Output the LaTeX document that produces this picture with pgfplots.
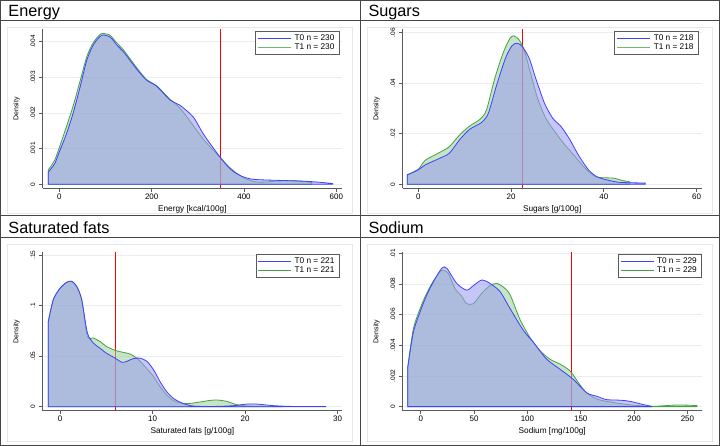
\documentclass[border=0pt]{standalone}
\usepackage{fontspec}
\setmainfont{Liberation Sans}
\usepackage{pgfplots}
\pgfplotsset{compat=1.18}
\definecolor{lblue}{RGB}{64,64,255}
\definecolor{lgreen}{RGB}{70,160,70}
\definecolor{lgreenl}{RGB}{110,185,110}
\definecolor{fblue}{RGB}{154,154,242}
\definecolor{fgreen}{RGB}{150,209,150}
\definecolor{axgray}{RGB}{90,90,90}
\definecolor{gridc}{RGB}{232,238,240}
\definecolor{framec}{RGB}{70,70,70}
\definecolor{faint}{RGB}{226,232,236}
\definecolor{redl}{RGB}{255,0,0}
\pgfplotsset{panel/.style={
  scale only axis, width=299.3bp, height=159bp,
  axis lines=left, axis line style={-, draw=axgray, line width=0.7bp},
  tick align=outside, major tick length=3.5bp,
  every tick/.style={draw=axgray, line width=0.7bp},
  ymajorgrids, major grid style={draw=gridc, line width=0.7bp},
  scaled ticks=false, clip=false,
  xticklabel style={font=\fontsize{8}{9}\selectfont, inner sep=1.5bp},
  yticklabel style={font=\fontsize{6.5}{7}\selectfont, rotate=90, anchor=south, inner sep=3.8bp},
  xlabel style={font=\fontsize{8.3}{9}\selectfont, at={(axis description cs:0.5,-0.13)}, anchor=center},
  ylabel style={font=\fontsize{7}{8}\selectfont, at={(axis description cs:-0.087,0.5)}, anchor=center},
  ylabel={Density},
  legend style={at={(0.991,0.99)}, anchor=north east, draw=axgray, line width=0.8bp, fill=white,
    font=\fontsize{8.3}{9}\selectfont, inner sep=1.5bp, row sep=-2.2bp, cells={anchor=west},
    nodes={inner xsep=3bp}},
  legend image code/.code={\draw[#1] (0bp,0bp) -- (33bp,0bp);},
  extra x tick style={xmajorgrids=true, major tick length=0pt,
    major grid style={draw=redl, line width=1bp}, xticklabel style={opacity=0}},
  gline/.style={smooth, tension=0.45, draw=lgreen, line width=0.8bp, fill=fgreen, fill opacity=0.55, draw opacity=1, forget plot},
  bline/.style={smooth, tension=0.45, draw=lblue, line width=0.8bp, fill=fblue, fill opacity=0.55, draw opacity=1, forget plot},
}}
\begin{document}
\begin{tikzpicture}[x=1bp,y=1bp]
\useasboundingbox (0,0) rectangle (720,446);
\fill[white] (0,0) rectangle (720,446);
% faint graph region borders
\draw[draw=faint, line width=0.7bp] (7.5,233) rectangle (352,419);
\draw[draw=faint, line width=0.7bp] (367.5,233) rectangle (712,419);
\draw[draw=faint, line width=0.7bp] (7.5,5) rectangle (352,202);
\draw[draw=faint, line width=0.7bp] (367.5,5) rectangle (712,202);

% ---------------- Saturated fats ----------------
\begin{axis}[panel, at={(42.7bp,35.3bp)}, anchor=south west, height=158.4bp,
  xmin=-1.87, xmax=30.47, ymin=-0.00396, ymax=0.1527,
  legend style={at={(0.991,0.99)}},
  xtick={0,10,20,30}, xticklabels={0,10,20,30},
  extra x ticks={6}, extra x tick labels={},
  ytick={0,0.05,0.1,0.15}, yticklabels={0,.05,.1,.15},
  xlabel={Saturated fats [g/100g]}]
\addlegendimage{draw=lblue, line width=1bp}\addlegendentry{T0 n = 221}
\addlegendimage{draw=lgreen, line width=1bp}\addlegendentry{T1 n = 221}
\addplot[gline] coordinates {(-1.26,0.0844) (-0.72,0.106) (0,0.117) (0.72,0.123) (1.26,0.124) (1.8,0.119) (2.34,0.106) (2.96,0.0696) (3.6,0.068) (4.3,0.0646) (5.0,0.0597) (5.95,0.0557) (6.7,0.054) (7.6,0.052) (8.3,0.048) (9.0,0.0415) (10.1,0.030) (10.8,0.020) (11.5,0.0119) (12.3,0.0059) (13.2,0.0033) (14.1,0.0033) (15.1,0.0046) (16.2,0.0062) (17,0.0066) (18,0.0053) (19.1,0.002) (20.2,0.0007) (22,0.0003) (24,0.0002)} \closedcycle;
\addplot[bline] coordinates {(-1.26,0.0844) (-0.72,0.106) (0,0.117) (0.72,0.123) (1.26,0.124) (1.8,0.119) (2.34,0.106) (2.96,0.073) (3.6,0.063) (4.3,0.058) (5.0,0.053) (5.95,0.048) (6.7,0.0439) (7.2,0.0448) (7.9,0.0475) (8.65,0.048) (9.4,0.0448) (10.1,0.0366) (10.8,0.025) (11.5,0.0152) (12.3,0.0079) (13.2,0.0036) (14.1,0.001) (15.1,0.0003) (17,0.0003) (18.75,0.001) (20.2,0.0026) (21.3,0.0026) (23.1,0.001) (24.9,0.0003) (27,0.0002) (28.7,0.0002)} \closedcycle;
\end{axis}

% ---------------- Sodium ----------------
\begin{axis}[panel, at={(402.7bp,35.3bp)}, anchor=south west, width=299bp, height=158.4bp,
  xmin=-16.9, xmax=263.4, ymin=-0.000264, ymax=0.01007,
  legend style={at={(1.0,0.99)}},
  xtick={0,50,100,150,200,250}, xticklabels={0,50,100,150,200,250},
  extra x ticks={141}, extra x tick labels={},
  ytick={0,0.002,0.004,0.006,0.008,0.01}, yticklabels={0,.002,.004,.006,.008,.01},
  xlabel={Sodium [mg/100g]}]
\addlegendimage{draw=lblue, line width=1bp}\addlegendentry{T0 n = 229}
\addlegendimage{draw=lgreen, line width=1bp}\addlegendentry{T1 n = 229}
\addplot[gline] coordinates {(-12.2,0.00255) (-6.9,0.00508) (0,0.0065) (5.6,0.0074) (11.9,0.0082) (18.1,0.0088) (21.25,0.0089) (25.9,0.0087) (32.2,0.0077) (38.4,0.0072) (43,0.00672) (49.4,0.00672) (57.2,0.0074) (65,0.0079) (71.25,0.00804) (77.5,0.0078) (83.75,0.0073) (93,0.0057) (102.5,0.0045) (111.9,0.00365) (121,0.0031) (130.6,0.00277) (140,0.00233) (149,0.00145) (155.6,0.0009) (165,0.0005) (174,0.00035) (187,0.0002) (199,0.0001) (215,0.00002) (224,0.00004) (237,0.0001) (249,0.0001) (259,0.00007)} \closedcycle;
\addplot[bline] coordinates {(-12.2,0.00255) (-6.9,0.00486) (0,0.0063) (5.6,0.00727) (11.9,0.00815) (19.7,0.00903) (24.4,0.00903) (33.75,0.00804) (43.1,0.0076) (49.4,0.0079) (57.2,0.00826) (65,0.00804) (74.4,0.0075) (83.75,0.0064) (96.25,0.00497) (105.6,0.0042) (118,0.0031) (130.6,0.00244) (143,0.00178) (155.6,0.0009) (165,0.00068) (174,0.00046) (187,0.00042) (196,0.00035) (209,0.00013) (216.6,0.00002)} \closedcycle;
\end{axis}

% ---------------- Energy ----------------
\begin{axis}[panel, at={(42.7bp,257.7bp)}, anchor=south west,
  xmin=-36, xmax=612.3, ymin=-0.000112, ymax=0.004348,
  xtick={0,200,400,600}, xticklabels={0,200,400,600},
  extra x ticks={350}, extra x tick labels={},
  ytick={0,0.001,0.002,0.003,0.004}, yticklabels={0,.001,.002,.003,.004},
  xlabel={Energy [kcal/100g]}]
\addlegendimage{draw=lblue, line width=1bp}\addlegendentry{T0 n = 230}
\addlegendimage{draw=lgreenl, line width=1.6bp}\addlegendentry{T1 n = 230}
\addplot[gline] coordinates {(-24,0.0004) (-10,0.00068) (0,0.00103) (15,0.0016) (30,0.0022) (45,0.0029) (60,0.0036) (75,0.0040) (90,0.00422) (100,0.00422) (110,0.00418) (125,0.00396) (140,0.00375) (167,0.00328) (189,0.00294) (211,0.00276) (240,0.00238) (255,0.00222) (270,0.00200) (290,0.00165) (311,0.00128) (330,0.00100) (350,0.00073) (365,0.00052) (380,0.00035) (400,0.00018) (420,0.00008) (440,0.00006) (470,0.00009) (490,0.0001) (510,0.0001) (530,0.00008) (547,0.00005)} \closedcycle;
\addplot[bline] coordinates {(-24,0.00034) (-10,0.00058) (0,0.00091) (15,0.0014) (30,0.0020) (45,0.00273) (60,0.0035) (75,0.00394) (92,0.00418) (110,0.00413) (125,0.0039) (140,0.0037) (167,0.00324) (189,0.00292) (211,0.00275) (240,0.00236) (261,0.00222) (290,0.00189) (311,0.00143) (330,0.00108) (350,0.00073) (365,0.0005) (380,0.00033) (400,0.0002) (420,0.00014) (450,0.00012) (500,0.0001) (540,0.00008) (570,0.00005) (592,0.00002)} \closedcycle;
\end{axis}

% ---------------- Sugars ----------------
\begin{axis}[panel, at={(402.7bp,257.7bp)}, anchor=south west, width=299bp,
  xmin=-3.36, xmax=61.1, ymin=-0.00158, ymax=0.0613,
  legend style={at={(0.989,0.99)}},
  xtick={0,20,40,60}, xticklabels={0,20,40,60},
  extra x ticks={22.4}, extra x tick labels={},
  ytick={0,0.02,0.04,0.06}, yticklabels={0,.02,.04,.06},
  xlabel={Sugars [g/100g]}]
\addlegendimage{draw=lblue, line width=1bp}\addlegendentry{T0 n = 218}
\addlegendimage{draw=lgreenl, line width=1.6bp}\addlegendentry{T1 n = 218}
\addplot[gline] coordinates {(-2.4,0.0037) (0,0.0060) (1.5,0.0095) (4.5,0.0125) (6.7,0.0149) (8.9,0.0195) (11.1,0.0231) (13.3,0.0257) (14.7,0.0294) (16.5,0.0420) (18.4,0.0525) (19.8,0.0578) (20.6,0.0587) (21.7,0.0572) (22.8,0.0532) (24.2,0.0440) (25.7,0.0341) (27.5,0.0261) (29.4,0.0209) (31.6,0.0156) (33.8,0.0110) (36,0.0063) (38.2,0.0030) (40,0.0026) (42.2,0.0024) (44,0.0015) (45.6,0.0010)} \closedcycle;
\addplot[bline] coordinates {(-2.4,0.0037) (0,0.0057) (1.5,0.0077) (4.5,0.0102) (6.7,0.0123) (8.9,0.0176) (11.1,0.0218) (13.6,0.0244) (15.1,0.0281) (16.9,0.0393) (18.8,0.0499) (20.2,0.0548) (21.3,0.0558) (22.4,0.0545) (23.9,0.0499) (25.3,0.0420) (27.2,0.0321) (29,0.0261) (30.8,0.0228) (32.7,0.0176) (34.5,0.0116) (36.7,0.0057) (38.5,0.0030) (40.7,0.0017) (43.3,0.0008) (46,0.0006) (48.9,0.0005)} \closedcycle;
\end{axis}

% frames and titles
\draw[draw=framec, line width=1bp] (0.5,0.5) rectangle (719.5,445.5);
\draw[draw=framec, line width=1bp] (360,0) -- (360,446);
\draw[draw=framec, line width=1bp] (0,230) -- (720,230);
\draw[draw=framec, line width=1bp] (0,425.3) -- (720,425.3);
\draw[draw=framec, line width=1bp] (0,208.3) -- (720,208.3);
\node[anchor=base west, inner sep=0, font=\fontsize{16.3}{17}\selectfont] at (8.3,429.3) {Energy};
\node[anchor=base west, inner sep=0, font=\fontsize{16.3}{17}\selectfont] at (368.3,429.3) {Sugars};
\node[anchor=base west, inner sep=0, font=\fontsize{16.3}{17}\selectfont] at (8.3,212.2) {Saturated fats};
\node[anchor=base west, inner sep=0, font=\fontsize{16.3}{17}\selectfont] at (368.3,212.2) {Sodium};
\end{tikzpicture}
\end{document}
